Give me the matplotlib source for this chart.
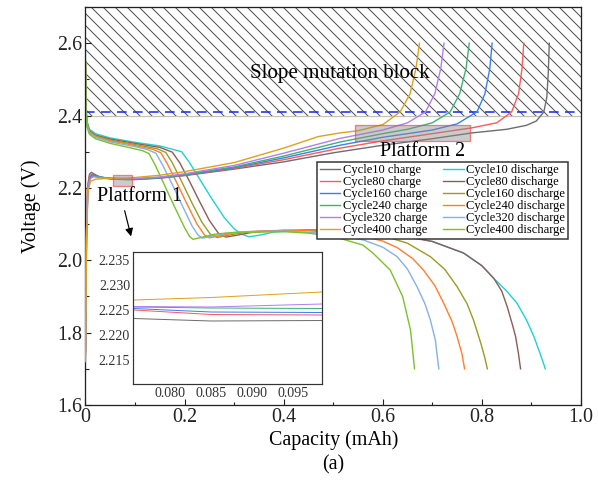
import matplotlib
matplotlib.use("Agg")
import matplotlib.pyplot as plt
from matplotlib.patches import Rectangle
from matplotlib.ticker import MultipleLocator, FixedLocator, FixedFormatter

plt.rcParams['font.family'] = ['Liberation Serif', 'DejaVu Serif']

# ---------------- data (capacity mAh, voltage V) ----------------
# charge curves
c10_chg_x = [0, 0.002, 0.004, 0.008, 0.012, 0.018, 0.03, 0.05, 0.0756, 0.085, 0.0985, 0.15, 0.2, 0.3, 0.4, 0.5, 0.6, 0.7, 0.78, 0.85, 0.89, 0.91, 0.925, 0.931, 0.934, 0.936]
c10_chg_v = [1.75, 2.05, 2.20, 2.238, 2.243, 2.238, 2.229, 2.2245, 2.2233, 2.2228, 2.2229, 2.227, 2.234, 2.252, 2.272, 2.297, 2.318, 2.336, 2.352, 2.362, 2.373, 2.385, 2.41, 2.45, 2.52, 2.60]

c80_chg_x = [0, 0.002, 0.004, 0.008, 0.013, 0.02, 0.035, 0.055, 0.0756, 0.085, 0.0985, 0.15, 0.2, 0.3, 0.4, 0.514, 0.6, 0.7, 0.78, 0.83, 0.86, 0.874, 0.881, 0.8845]
c80_chg_v = [1.75, 2.06, 2.20, 2.233, 2.238, 2.234, 2.228, 2.2258, 2.2250, 2.2241, 2.2240, 2.2275, 2.235, 2.254, 2.278, 2.310, 2.330, 2.350, 2.366, 2.380, 2.41, 2.46, 2.53, 2.60]

c160_chg_x = [0, 0.002, 0.005, 0.009, 0.014, 0.022, 0.04, 0.06, 0.0756, 0.085, 0.0985, 0.15, 0.2, 0.3, 0.4, 0.514, 0.6, 0.7, 0.75, 0.79, 0.806, 0.816, 0.8206]
c160_chg_v = [1.75, 2.07, 2.20, 2.230, 2.236, 2.233, 2.228, 2.2258, 2.2253, 2.2246, 2.2245, 2.228, 2.236, 2.256, 2.283, 2.318, 2.340, 2.360, 2.377, 2.41, 2.46, 2.53, 2.60]

c240_chg_x = [0, 0.002, 0.005, 0.01, 0.015, 0.025, 0.045, 0.06, 0.0756, 0.085, 0.0985, 0.15, 0.2, 0.3, 0.4, 0.514, 0.6, 0.65, 0.7, 0.736, 0.755, 0.768, 0.7745]
c240_chg_v = [1.74, 2.08, 2.205, 2.228, 2.233, 2.231, 2.227, 2.226, 2.2256, 2.2254, 2.2253, 2.229, 2.237, 2.258, 2.288, 2.327, 2.350, 2.362, 2.380, 2.41, 2.46, 2.53, 2.60]

c320_chg_x = [0, 0.002, 0.005, 0.01, 0.016, 0.026, 0.045, 0.06, 0.0756, 0.085, 0.0985, 0.15, 0.2, 0.3, 0.4, 0.514, 0.6, 0.65, 0.686, 0.705, 0.717, 0.7235]
c320_chg_v = [1.72, 2.08, 2.205, 2.226, 2.231, 2.229, 2.2265, 2.226, 2.2257, 2.2256, 2.2262, 2.230, 2.239, 2.262, 2.296, 2.337, 2.360, 2.380, 2.41, 2.46, 2.53, 2.60]

c400_chg_x = [0, 0.002, 0.005, 0.01, 0.02, 0.04, 0.06, 0.0756, 0.085, 0.0985, 0.15, 0.2, 0.3, 0.4, 0.47, 0.514, 0.55, 0.6, 0.635, 0.655, 0.667, 0.674]
c400_chg_v = [1.73, 2.05, 2.19, 2.218, 2.224, 2.226, 2.2265, 2.2270, 2.2275, 2.2286, 2.235, 2.245, 2.270, 2.310, 2.342, 2.352, 2.358, 2.375, 2.41, 2.46, 2.53, 2.60]

# discharge curves
c10_dis_x = [0, 0.001, 0.003, 0.008, 0.02, 0.05, 0.1, 0.15, 0.194, 0.21, 0.23, 0.255, 0.28, 0.30, 0.315, 0.33, 0.35, 0.38, 0.45, 0.55, 0.65, 0.7, 0.763, 0.8, 0.824, 0.85, 0.871, 0.89, 0.905, 0.918, 0.928]
c10_dis_v = [2.53, 2.43, 2.385, 2.362, 2.350, 2.338, 2.326, 2.316, 2.300, 2.270, 2.225, 2.170, 2.118, 2.087, 2.072, 2.065, 2.069, 2.078, 2.084, 2.082, 2.067, 2.052, 2.020, 1.985, 1.950, 1.915, 1.881, 1.835, 1.789, 1.74, 1.70]

c80_dis_x = [0, 0.001, 0.003, 0.008, 0.02, 0.05, 0.1, 0.15, 0.175, 0.19, 0.21, 0.23, 0.25, 0.268, 0.283, 0.3, 0.34, 0.4, 0.5, 0.6, 0.7, 0.763, 0.8, 0.824, 0.84, 0.851, 0.862, 0.868, 0.874, 0.878]
c80_dis_v = [2.54, 2.42, 2.38, 2.358, 2.346, 2.335, 2.323, 2.312, 2.299, 2.270, 2.218, 2.163, 2.110, 2.075, 2.064, 2.068, 2.078, 2.083, 2.083, 2.076, 2.052, 2.020, 1.985, 1.950, 1.915, 1.872, 1.820, 1.789, 1.74, 1.70]

c160_dis_x = [0, 0.001, 0.003, 0.008, 0.02, 0.05, 0.1, 0.145, 0.162, 0.175, 0.195, 0.215, 0.235, 0.252, 0.266, 0.28, 0.32, 0.38, 0.5, 0.6, 0.65, 0.696, 0.725, 0.75, 0.77, 0.783, 0.798, 0.806, 0.811]
c160_dis_v = [2.55, 2.42, 2.378, 2.356, 2.344, 2.332, 2.320, 2.308, 2.298, 2.270, 2.215, 2.158, 2.105, 2.072, 2.063, 2.067, 2.077, 2.082, 2.082, 2.068, 2.047, 2.010, 1.975, 1.927, 1.880, 1.835, 1.77, 1.73, 1.70]

c240_dis_x = [0, 0.001, 0.003, 0.008, 0.02, 0.05, 0.1, 0.135, 0.152, 0.165, 0.185, 0.205, 0.225, 0.24, 0.25, 0.265, 0.3, 0.35, 0.45, 0.55, 0.6, 0.629, 0.66, 0.682, 0.705, 0.723, 0.74, 0.75, 0.76, 0.765]
c240_dis_v = [2.55, 2.41, 2.375, 2.354, 2.342, 2.330, 2.317, 2.307, 2.297, 2.267, 2.212, 2.155, 2.100, 2.070, 2.062, 2.066, 2.076, 2.081, 2.082, 2.070, 2.053, 2.035, 2.005, 1.973, 1.930, 1.881, 1.830, 1.789, 1.74, 1.70]

c320_dis_x = [0, 0.001, 0.003, 0.008, 0.02, 0.05, 0.1, 0.125, 0.142, 0.155, 0.175, 0.195, 0.215, 0.227, 0.236, 0.25, 0.28, 0.32, 0.4, 0.5, 0.561, 0.6, 0.629, 0.65, 0.669, 0.685, 0.696, 0.706, 0.713]
c320_dis_v = [2.575, 2.41, 2.372, 2.351, 2.340, 2.327, 2.314, 2.306, 2.296, 2.265, 2.210, 2.152, 2.095, 2.070, 2.061, 2.065, 2.074, 2.079, 2.081, 2.073, 2.056, 2.036, 2.010, 1.975, 1.927, 1.880, 1.835, 1.78, 1.70]

c400_dis_x = [0, 0.001, 0.003, 0.008, 0.02, 0.05, 0.09, 0.115, 0.128, 0.14, 0.16, 0.18, 0.2, 0.21, 0.217, 0.23, 0.26, 0.3, 0.4, 0.45, 0.5, 0.56, 0.58, 0.615, 0.64, 0.656, 0.664]
c400_dis_v = [2.55, 2.40, 2.368, 2.348, 2.336, 2.323, 2.311, 2.303, 2.295, 2.265, 2.206, 2.147, 2.090, 2.066, 2.058, 2.062, 2.072, 2.077, 2.079, 2.075, 2.066, 2.042, 2.020, 1.973, 1.900, 1.807, 1.70]

charge_labels = ['Cycle10 charge', 'Cycle80 charge', 'Cycle160 charge',
                 'Cycle240 charge', 'Cycle320 charge', 'Cycle400 charge']
discharge_labels = ['Cycle10 discharge', 'Cycle80 discharge', 'Cycle160 discharge',
                    'Cycle240 discharge', 'Cycle320 discharge', 'Cycle400 discharge']

charge_series = [(c10_chg_x, c10_chg_v), (c80_chg_x, c80_chg_v), (c160_chg_x, c160_chg_v),
                 (c240_chg_x, c240_chg_v), (c320_chg_x, c320_chg_v), (c400_chg_x, c400_chg_v)]
discharge_series = [(c10_dis_x, c10_dis_v), (c80_dis_x, c80_dis_v), (c160_dis_x, c160_dis_v),
                    (c240_dis_x, c240_dis_v), (c320_dis_x, c320_dis_v), (c400_dis_x, c400_dis_v)]

x_ticks = [0, 0.2, 0.4, 0.6, 0.8, 1.0]
x_tick_labels = ['0', '0.2', '0.4', '0.6', '0.8', '1.0']
y_ticks = [1.6, 1.8, 2.0, 2.2, 2.4, 2.6]
y_tick_labels = ['1.6', '1.8', '2.0', '2.2', '2.4', '2.6']
inset_x_ticks = [0.080, 0.085, 0.090, 0.095]
inset_y_ticks = [2.215, 2.220, 2.225, 2.230, 2.235]

slope_block = (2.4, 2.7)
dashed_level = 2.41
platform1_box = (0.056, 2.206, 0.037, 0.031)
platform2_box = (0.544, 2.330, 0.231, 0.045)

# ---------------- styles ----------------
charge_colors = ['#6e6e6e', '#ff5a5a', '#3a80ee', '#3cb371', '#b47ef0', '#e0a21b']
discharge_colors = ['#22d0d4', '#8c5e58', '#9c9c22', '#ff7f2e', '#86b2e0', '#7cc22a']

DPI = 72
fig = plt.figure(figsize=(598 / DPI, 480 / DPI), dpi=DPI)
ax = fig.add_axes([85.5 / 598, 75 / 480, 495.5 / 598, 398 / 480])

ax.axhspan(slope_block[0], slope_block[1], facecolor='none', edgecolor='#505050',
           hatch='\\\\', linewidth=0, zorder=0)
ax.axhline(slope_block[0], color='#c0c0c0', lw=1.2, zorder=1)
ax.axhline(dashed_level, color='#1a2eff', lw=1.6, ls=(0, (6, 4)), zorder=1)

handles = []
for (x, v), c, lab in zip(charge_series, charge_colors, charge_labels):
    h, = ax.plot(x, v, color=c, lw=1.4, label=lab, zorder=3)
    handles.append(h)
for (x, v), c, lab in zip(discharge_series, discharge_colors, discharge_labels):
    h, = ax.plot(x, v, color=c, lw=1.4, label=lab, zorder=2)
    handles.append(h)

for box in (platform1_box, platform2_box):
    ax.add_patch(Rectangle(box[:2], box[2], box[3], facecolor=(0.55, 0.55, 0.55, 0.45),
                           edgecolor=(1.0, 0.25, 0.25, 0.65), lw=1.3, zorder=4))

ax.set_xlim(0, 1.0)
ax.set_ylim(1.6, 2.7)
ax.xaxis.set_major_locator(FixedLocator(x_ticks))
ax.xaxis.set_major_formatter(FixedFormatter(x_tick_labels))
ax.yaxis.set_major_locator(FixedLocator(y_ticks))
ax.yaxis.set_major_formatter(FixedFormatter(y_tick_labels))
ax.xaxis.set_minor_locator(MultipleLocator(0.1))
ax.yaxis.set_minor_locator(MultipleLocator(0.1))
ax.tick_params(which='both', direction='in', top=False, right=False, width=1.1,
               labelsize=20, colors='#222222')
ax.tick_params(which='major', length=6, pad=3)
ax.tick_params(which='minor', length=3.5)
for s in ax.spines.values():
    s.set_linewidth(1.3)
    s.set_color('#222222')

ax.set_xlabel('Capacity (mAh)', fontsize=20, labelpad=3)
ax.set_ylabel('Voltage (V)', fontsize=20, labelpad=16)

ax.text(0.514, 2.517, 'Slope mutation block', fontsize=21, ha='center', va='center', zorder=5)
ax.text(0.68, 2.302, 'Platform 2', fontsize=20, ha='center', va='center', zorder=5)
ax.text(0.108, 2.175, 'Platform 1', fontsize=20, ha='center', va='center', zorder=5)
ax.annotate('', xy=(0.092, 2.066), xytext=(0.079, 2.137),
            arrowprops=dict(arrowstyle='-|>', color='black', lw=1.2, mutation_scale=16,
                            shrinkA=0, shrinkB=0), zorder=5)

leg = ax.legend(handles=handles, ncol=2, loc='upper left',
                bbox_to_anchor=(317 / 598, 1 - 161.5 / 480), bbox_transform=fig.transFigure,
                borderaxespad=0, fontsize=12.5, frameon=True, fancybox=False,
                edgecolor='#333333', framealpha=1, handlelength=1.65, handletextpad=0.2,
                columnspacing=1.3, labelspacing=0.0, borderpad=0.2)
leg.get_frame().set_linewidth(1.5)
leg.set_zorder(6)

fig.text(333 / 598, 1 - 465 / 480, '(a)', ha='center', va='center', fontsize=20)

# inset
axin = fig.add_axes([133 / 598, 96 / 480, 189 / 598, 132 / 480])
for (x, v), c in zip(charge_series, charge_colors):
    axin.plot(x, v, color=c, lw=1.0)
axin.set_xlim(0.0755, 0.0985)
axin.set_ylim(2.2102, 2.2366)
axin.xaxis.set_major_locator(FixedLocator(inset_x_ticks))
axin.yaxis.set_major_locator(FixedLocator(inset_y_ticks))
axin.xaxis.set_major_formatter(FixedFormatter(['%.3f' % t for t in inset_x_ticks]))
axin.yaxis.set_major_formatter(FixedFormatter(['%.3f' % t for t in inset_y_ticks]))
axin.tick_params(length=0, labelsize=14, pad=3, colors='#333333')
for s in axin.spines.values():
    s.set_linewidth(1.2)
    s.set_color('#333333')

fig.savefig('out.png', dpi=DPI)
